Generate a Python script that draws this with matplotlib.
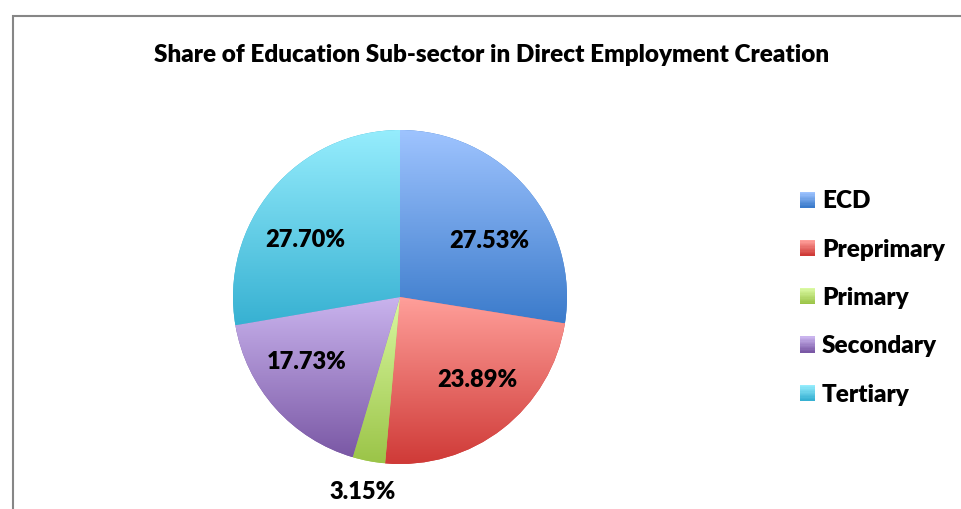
import numpy as np
import matplotlib
matplotlib.use('Agg')
import matplotlib.pyplot as plt
from matplotlib.colors import LinearSegmentedColormap, to_rgb
from matplotlib.patches import Patch, Rectangle
from matplotlib.legend_handler import HandlerBase

# data
sectors = ['ECD', 'Preprimary', 'Primary', 'Secondary', 'Tertiary']
shares = [27.53, 23.89, 3.15, 17.73, 27.70]

# gradient colours (top, bottom) for each slice
light = ['#9fc4ff', '#ff9f9a', '#daf9a2', '#cab4ee', '#96edfd']
dark = ['#3b7bcb', '#cf3a37', '#9bc448', '#7a58a5', '#37b1d2']

# label placement: radial distance and angle nudge (deg) per slice
lab_dist = [0.63, 0.68, 1.19, 0.68, 0.66]
lab_nudge = [-8, 5, 0, -7, 9]

plt.rcParams['font.family'] = ['Lato', 'DejaVu Sans']
WEIGHT = 'heavy'

fig = plt.figure(figsize=(9.62, 5.09), dpi=100)
W, H = 962, 509
cx, cy, R = 400, 297, 167
lim = 1.2
side = 2 * lim * R
ax = fig.add_axes([(cx - side / 2) / W, (H - cy - side / 2) / H, side / W, side / H])

wedges, _ = ax.pie(shares, startangle=90, counterclock=False, radius=1,
                   colors=dark, wedgeprops=dict(linewidth=0))

# vertical gradient inside each slice, clipped to the wedge
grad = np.linspace(0, 1, 256).reshape(-1, 1)
for w, c1, c2 in zip(wedges, light, dark):
    ext = w.get_path().get_extents()
    cmap = LinearSegmentedColormap.from_list('g', [c1, c2])
    im = ax.imshow(grad, cmap=cmap, aspect='auto', origin='upper',
                   extent=[ext.x0, ext.x1, ext.y0, ext.y1], zorder=2,
                   interpolation='bilinear')
    im.set_clip_path(w)

# percentage labels
for w, v, d, n in zip(wedges, shares, lab_dist, lab_nudge):
    ang = np.deg2rad((w.theta1 + w.theta2) / 2 + n)
    ax.text(d * np.cos(ang), d * np.sin(ang), f'{v:.2f}%', ha='center', va='center',
            fontsize=17, fontweight=WEIGHT, zorder=5, clip_on=False)

ax.set_xlim(-lim, lim)
ax.set_ylim(-lim, lim)
ax.set_aspect('equal')
ax.axis('off')


class GradHandler(HandlerBase):
    def create_artists(self, legend, orig_handle, xdescent, ydescent, width, height, fontsize, trans):
        c1, c2 = np.array(to_rgb(orig_handle.c1)), np.array(to_rgb(orig_handle.c2))
        n = 12
        arts = []
        for i in range(n):
            t = i / (n - 1)
            col = c1 * (1 - t) + c2 * t
            r = Rectangle((-xdescent, -ydescent + height * (1 - (i + 1) / n)), width, height / n + 0.3,
                          facecolor=col, edgecolor='none', transform=trans)
            arts.append(r)
        return arts


handles = []
for c1, c2 in zip(light, dark):
    p = Patch()
    p.c1, p.c2 = c1, c2
    handles.append(p)

fig.legend(handles, sectors, loc='center left', bbox_to_anchor=(800 / W, 1 - 298 / H),
           frameon=False, prop=dict(size=17.5, weight=WEIGHT), borderpad=0,
           borderaxespad=0, handlelength=0.62, handleheight=0.62, handletextpad=0.29,
           labelspacing=1.08, handler_map={h: GradHandler() for h in handles})

fig.text(492 / W, 1 - 55 / H, 'Share of Education Sub-sector in Direct Employment Creation',
         ha='center', va='center', fontsize=17.5, fontweight=WEIGHT)

# chart border (cropped on right and bottom)
fig.patches.append(Rectangle((13 / W, -0.1), 1.2, 0.1 + 1 - 16.5 / H, transform=fig.transFigure,
                             fill=False, edgecolor='#868686', linewidth=1.5))

fig.savefig('out.png', dpi=100)
